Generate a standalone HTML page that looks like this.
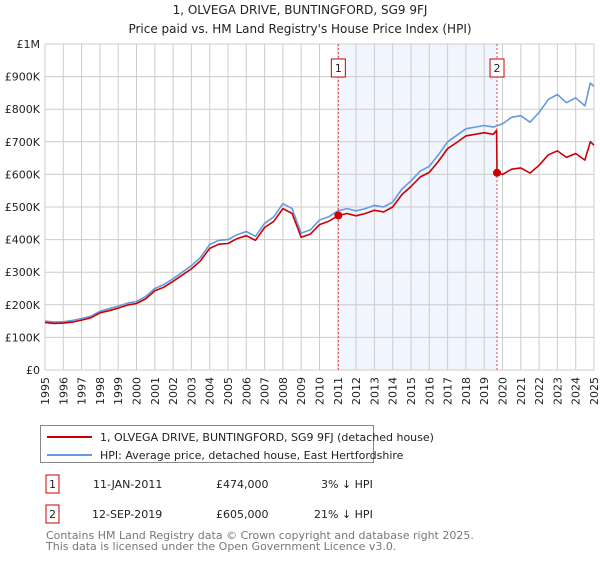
<!DOCTYPE html>
<html><head><meta charset="utf-8">
<style>
body{margin:0;background:#fff;font-family:"Liberation Sans","DejaVu Sans",sans-serif;}
svg text{font-family:"DejaVu Sans","Liberation Sans",sans-serif;}
</style></head>
<body>
<svg id="chart" width="600" height="560" xmlns="http://www.w3.org/2000/svg">
<text x="300" y="14" text-anchor="middle" font-size="12" fill="#222">1, OLVEGA DRIVE, BUNTINGFORD, SG9 9FJ</text>
<text x="300" y="33" text-anchor="middle" font-size="12" fill="#222">Price paid vs. HM Land Registry's House Price Index (HPI)</text>
<g id="grid"></g>
<g id="series"></g>
<g id="legend">
<rect x="40.5" y="425.5" width="333" height="37" fill="#fff" stroke="#888"/>
<line x1="47" y1="437" x2="92" y2="437" stroke="#cc0000" stroke-width="2"/>
<text x="100" y="441" font-size="11" fill="#222">1, OLVEGA DRIVE, BUNTINGFORD, SG9 9FJ (detached house)</text>
<line x1="47" y1="455" x2="92" y2="455" stroke="#6699dd" stroke-width="2"/>
<text x="100" y="459" font-size="11" fill="#222">HPI: Average price, detached house, East Hertfordshire</text>
</g>
<g font-size="11" fill="#222">
<rect x="46" y="475" width="13" height="18" fill="#fff" stroke="#cc0000"/>
<text x="52.5" y="488" text-anchor="middle">1</text>
<text x="93" y="488">11-JAN-2011</text><text x="216" y="488">£474,000</text><text x="321" y="488">3% ↓ HPI</text>
<rect x="46" y="505" width="13" height="18" fill="#fff" stroke="#cc0000"/>
<text x="52.5" y="518" text-anchor="middle">2</text>
<text x="92" y="518">12-SEP-2019</text><text x="216" y="518">£605,000</text><text x="314" y="518">21% ↓ HPI</text>
</g>
<text x="46" y="539" font-size="11" fill="#777">Contains HM Land Registry data © Crown copyright and database right 2025.</text>
<text x="46" y="550" font-size="11" fill="#777">This data is licensed under the Open Government Licence v3.0.</text>
</svg>
<script>
const hpiYears=[1995,1995.5,1996,1996.5,1997,1997.5,1998,1998.5,1999,1999.5,2000,2000.5,2001,2001.5,2002,2002.5,2003,2003.5,2004,2004.5,2005,2005.5,2006,2006.5,2007,2007.5,2008,2008.5,2009,2009.5,2010,2010.5,2011,2011.5,2012,2012.5,2013,2013.5,2014,2014.5,2015,2015.5,2016,2016.5,2017,2017.5,2018,2018.5,2019,2019.5,2020,2020.5,2021,2021.5,2022,2022.5,2023,2023.5,2024,2024.5,2024.8,2025];
const hpiValues=[150,147,148,152,158,165,180,188,196,205,210,225,250,262,280,300,320,345,385,398,400,415,425,410,450,470,510,495,420,430,460,470,488,495,488,495,505,500,515,555,580,610,625,660,700,720,740,745,750,745,755,775,780,760,790,830,845,820,835,810,880,870];
const propYears=[1995,1995.5,1996,1996.5,1997,1997.5,1998,1998.5,1999,1999.5,2000,2000.5,2001,2001.5,2002,2002.5,2003,2003.5,2004,2004.5,2005,2005.5,2006,2006.5,2007,2007.5,2008,2008.5,2009,2009.5,2010,2010.5,2011.03,2011.5,2012,2012.5,2013,2013.5,2014,2014.5,2015,2015.5,2016,2016.5,2017,2017.5,2018,2018.5,2019,2019.5,2019.68,2019.7,2020,2020.5,2021,2021.5,2022,2022.5,2023,2023.5,2024,2024.5,2024.8,2025];
const propValues=[146,143,144,147,153,160,175,182,190,199,204,218,243,254,272,291,310,335,373,386,388,403,412,398,437,456,495,480,407,417,446,456,474,480,473,480,490,485,500,538,563,592,606,640,679,698,718,723,728,723,735,605,600,616,620,604,628,660,672,652,664,644,700,690];
const saleYears=[2011.03,2019.7];
const saleValues=[474,605];
const saleLabels=["1","2"];
const yTicks=[0,100,200,300,400,500,600,700,800,900,1000];
const yTickLabels=["£0","£100K","£200K","£300K","£400K","£500K","£600K","£700K","£800K","£900K","£1M"];
const xTicks=[1995,1996,1997,1998,1999,2000,2001,2002,2003,2004,2005,2006,2007,2008,2009,2010,2011,2012,2013,2014,2015,2016,2017,2018,2019,2020,2021,2022,2023,2024,2025];

const L=45,R=594,T=44,B=370;
const xS=y=>L+(y-1995)/30*(R-L);
const yS=v=>B-v/1000*(B-T);
const NS="http://www.w3.org/2000/svg";
function mk(tag,attrs,parent){const e=document.createElementNS(NS,tag);for(const k in attrs)e.setAttribute(k,attrs[k]);parent.appendChild(e);return e;}
const grid=document.getElementById('grid'), ser=document.getElementById('series');
let sh=mk('rect',{x:xS(saleYears[0]),y:T,width:xS(saleYears[1])-xS(saleYears[0]),height:B-T,fill:'#eef3fc',opacity:0.8},grid);


yTicks.forEach((v,i)=>{
  let l=mk('line',{x1:L,x2:R,y1:yS(v),y2:yS(v),stroke:'#cccccc'},grid);
  
  
  let t=mk('text',{x:40,y:yS(v)+4,'text-anchor':'end','font-size':11,fill:'#222'},grid);
  t.textContent=yTickLabels[i];
  
  
});
xTicks.forEach(y=>{
  let l=mk('line',{x1:xS(y),x2:xS(y),y1:T,y2:B,stroke:'#cccccc'},grid);
  
  
  const tx=xS(y)+4, ty=377;
  let t=mk('text',{x:tx,y:ty,'text-anchor':'end','font-size':11,fill:'#222',transform:'rotate(-90 '+tx+' '+ty+')'},grid);
  t.textContent=y;
  
  
});
saleYears.forEach((y,i)=>{
  let l=mk('line',{x1:xS(y),x2:xS(y),y1:T,y2:B,stroke:'#ee4444','stroke-dasharray':'2,2'},grid);
  
  
  let r=mk('rect',{x:xS(y)-7,y:59,width:14,height:18,fill:'#fff',stroke:'#cc0000'},grid);
  
  
  let t=mk('text',{x:xS(y),y:72,'text-anchor':'middle','font-size':11,fill:'#222'},grid);
  t.textContent=saleLabels[i];
  
  
});
function line(xs,vs,color,name){
  let p=mk('polyline',{points:xs.map((y,i)=>xS(y).toFixed(1)+','+yS(vs[i]).toFixed(1)).join(' '),fill:'none',stroke:color,'stroke-width':1.6,'stroke-linejoin':'round'},ser);
  
  
}
line(hpiYears,hpiValues,'#6699dd','hpi-line');
line(propYears,propValues,'#cc0000','property-line');
saleYears.forEach((y,i)=>{
  let c=mk('circle',{cx:xS(y),cy:yS(saleValues[i]),r:4,fill:'#cc0000'},ser);
  
  
});
</script>
</body></html>
